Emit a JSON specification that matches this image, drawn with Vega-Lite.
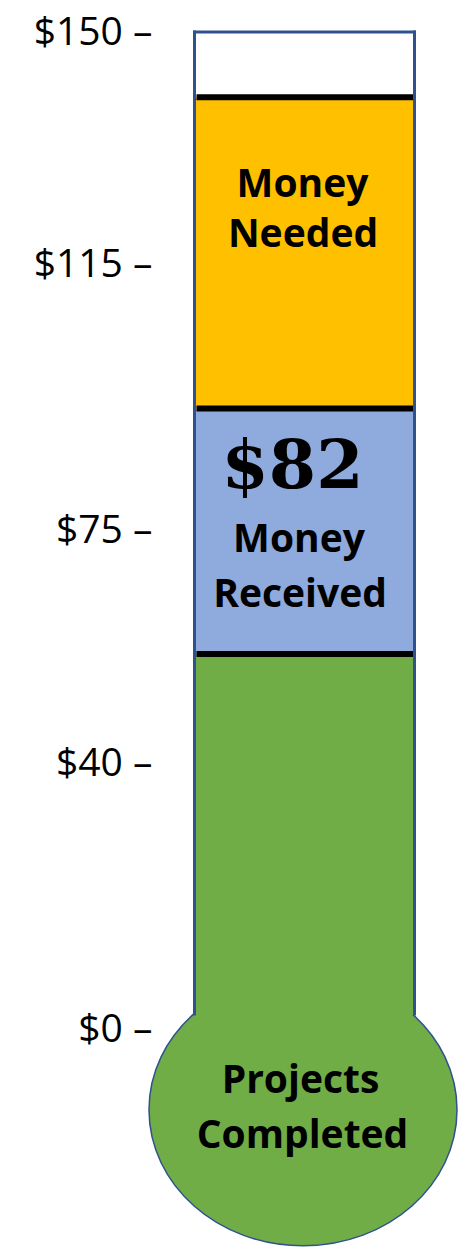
{
  "$schema": "https://vega.github.io/schema/vega-lite/v6.json",
  "width": 306,
  "height": 1247,
  "autosize": {"type": "none"},
  "padding": {"left": 160, "top": 0, "right": 0, "bottom": 0},
  "background": "white",
  "config": {
    "view": {"stroke": null},
    "axisY": {
      "labelExpr": "'$' + datum.value + ' –'",
      "title": null,
      "ticks": false,
      "domain": false,
      "grid": false,
      "labelFont": "Open Sans",
      "labelFontSize": 39,
      "labelFontWeight": "normal",
      "labelColor": "#000000",
      "labelAlign": "right",
      "labelBaseline": "middle",
      "labelPadding": 8,
      "labelFlush": false,
      "labelOverlap": false,
      "labelBound": false
    }
  },
  "datasets": {
    "segments": [
      {"part": "Projects Completed", "lo": 2.25, "hi": 56.5},
      {"part": "Money Received", "lo": 56.5, "hi": 93.4},
      {"part": "Money Needed", "lo": 93.4, "hi": 140.2},
      {"part": "Goal remaining", "lo": 140.2, "hi": 150}
    ],
    "boundaries": [{"v": 56.5}, {"v": 93.4}, {"v": 140.2}],
    "labels": [
      {"text": "Money", "x": 142.5, "y": 125.2},
      {"text": "Needed", "x": 143, "y": 117.7},
      {"text": "Money", "x": 139, "y": 71.8},
      {"text": "Received", "x": 140, "y": 63.6},
      {"text": "Projects", "x": 140.5, "y": -9.5},
      {"text": "Completed", "x": 142.5, "y": -17.7}
    ],
    "amount": [{"text": "$82", "x": 132.5, "y": 81.5}],
    "bulb": [{"x": 143, "y": -12}],
    "one": [{}]
  },
  "layer": [
    {
      "data": {"name": "segments"},
      "mark": {"type": "rect"},
      "encoding": {
        "x": {"datum": 35, "type": "quantitative", "scale": {"domain": [0, 306], "nice": false, "zero": false}, "axis": null},
        "x2": {"datum": 254.5},
        "y": {
          "field": "lo", "type": "quantitative", "title": null,
          "scale": {"domain": [-32.62, 154.81], "nice": false, "zero": false},
          "axis": {"values": [0, 40, 75, 115, 150]}
        },
        "y2": {"field": "hi"},
        "color": {
          "field": "part", "type": "nominal",
          "scale": {
            "domain": ["Projects Completed", "Money Received", "Money Needed", "Goal remaining"],
            "range": ["#70AD47", "#8FAADC", "#FFC000", "#FFFFFF"]
          },
          "legend": null
        }
      }
    },
    {
      "data": {"name": "bulb"},
      "mark": {
        "type": "point",
        "shape": "M -1 0 C -1 -0.4877 -0.5523 -0.883 0 -0.883 C 0.5523 -0.883 1 -0.4877 1 0 C 1 0.4877 0.5523 0.883 0 0.883 C -0.5523 0.883 -1 0.4877 -1 0 Z",
        "size": 94864,
        "filled": true,
        "fill": "#70AD47",
        "stroke": "#2F528F",
        "strokeWidth": 1.5,
        "opacity": 1,
        "fillOpacity": 1,
        "strokeOpacity": 1
      },
      "encoding": {
        "x": {"field": "x", "type": "quantitative", "scale": {"domain": [0, 306], "nice": false, "zero": false}, "axis": null},
        "y": {"field": "y", "type": "quantitative", "title": null, "scale": {"domain": [-32.62, 154.81], "nice": false, "zero": false}, "axis": {"values": [0, 40, 75, 115, 150]}}
      }
    },
    {
      "data": {"name": "segments"},
      "transform": [{"filter": "datum.part === 'Projects Completed'"}],
      "mark": {"type": "rect", "color": "#70AD47"},
      "encoding": {
        "x": {"datum": 35, "type": "quantitative", "scale": {"domain": [0, 306], "nice": false, "zero": false}, "axis": null},
        "x2": {"datum": 254.5},
        "y": {"field": "lo", "type": "quantitative", "title": null, "scale": {"domain": [-32.62, 154.81], "nice": false, "zero": false}, "axis": {"values": [0, 40, 75, 115, 150]}},
        "y2": {"field": "hi"}
      }
    },
    {
      "data": {"name": "boundaries"},
      "mark": {"type": "rule", "color": "#000000", "strokeWidth": 6, "strokeCap": "butt"},
      "encoding": {
        "x": {"datum": 36.5, "type": "quantitative", "scale": {"domain": [0, 306], "nice": false, "zero": false}, "axis": null},
        "x2": {"datum": 253},
        "y": {"field": "v", "type": "quantitative", "title": null, "scale": {"domain": [-32.62, 154.81], "nice": false, "zero": false}, "axis": {"values": [0, 40, 75, 115, 150]}}
      }
    },
    {
      "data": {"name": "one"},
      "mark": {"type": "rule", "color": "#2F528F", "strokeWidth": 3, "strokeCap": "square"},
      "encoding": {
        "x": {"datum": 34.5, "type": "quantitative", "scale": {"domain": [0, 306], "nice": false, "zero": false}, "axis": null},
        "y": {"datum": 2.4, "type": "quantitative", "title": null, "scale": {"domain": [-32.62, 154.81], "nice": false, "zero": false}, "axis": {"values": [0, 40, 75, 115, 150]}},
        "y2": {"datum": 150}
      }
    },
    {
      "data": {"name": "one"},
      "mark": {"type": "rule", "color": "#2F528F", "strokeWidth": 3, "strokeCap": "square"},
      "encoding": {
        "x": {"datum": 254.5, "type": "quantitative", "scale": {"domain": [0, 306], "nice": false, "zero": false}, "axis": null},
        "y": {"datum": 2.4, "type": "quantitative", "title": null, "scale": {"domain": [-32.62, 154.81], "nice": false, "zero": false}, "axis": {"values": [0, 40, 75, 115, 150]}},
        "y2": {"datum": 150}
      }
    },
    {
      "data": {"name": "one"},
      "mark": {"type": "rule", "color": "#2F528F", "strokeWidth": 3, "strokeCap": "square"},
      "encoding": {
        "x": {"datum": 34.5, "type": "quantitative", "scale": {"domain": [0, 306], "nice": false, "zero": false}, "axis": null},
        "x2": {"datum": 254.5},
        "y": {"datum": 150, "type": "quantitative", "title": null, "scale": {"domain": [-32.62, 154.81], "nice": false, "zero": false}, "axis": {"values": [0, 40, 75, 115, 150]}}
      }
    },
    {
      "data": {"name": "labels"},
      "mark": {"type": "text", "font": "Open Sans", "fontWeight": "bold", "fontSize": 39, "color": "#000000", "align": "center", "baseline": "alphabetic"},
      "encoding": {
        "x": {"field": "x", "type": "quantitative", "scale": {"domain": [0, 306], "nice": false, "zero": false}, "axis": null},
        "y": {"field": "y", "type": "quantitative", "title": null, "scale": {"domain": [-32.62, 154.81], "nice": false, "zero": false}, "axis": {"values": [0, 40, 75, 115, 150]}},
        "text": {"field": "text", "type": "nominal"}
      }
    },
    {
      "data": {"name": "amount"},
      "mark": {"type": "text", "font": "DejaVu Serif", "fontWeight": "bold", "fontSize": 68, "color": "#000000", "align": "center", "baseline": "alphabetic"},
      "encoding": {
        "x": {"field": "x", "type": "quantitative", "scale": {"domain": [0, 306], "nice": false, "zero": false}, "axis": null},
        "y": {"field": "y", "type": "quantitative", "title": null, "scale": {"domain": [-32.62, 154.81], "nice": false, "zero": false}, "axis": {"values": [0, 40, 75, 115, 150]}},
        "text": {"field": "text", "type": "nominal"}
      }
    }
  ]
}
